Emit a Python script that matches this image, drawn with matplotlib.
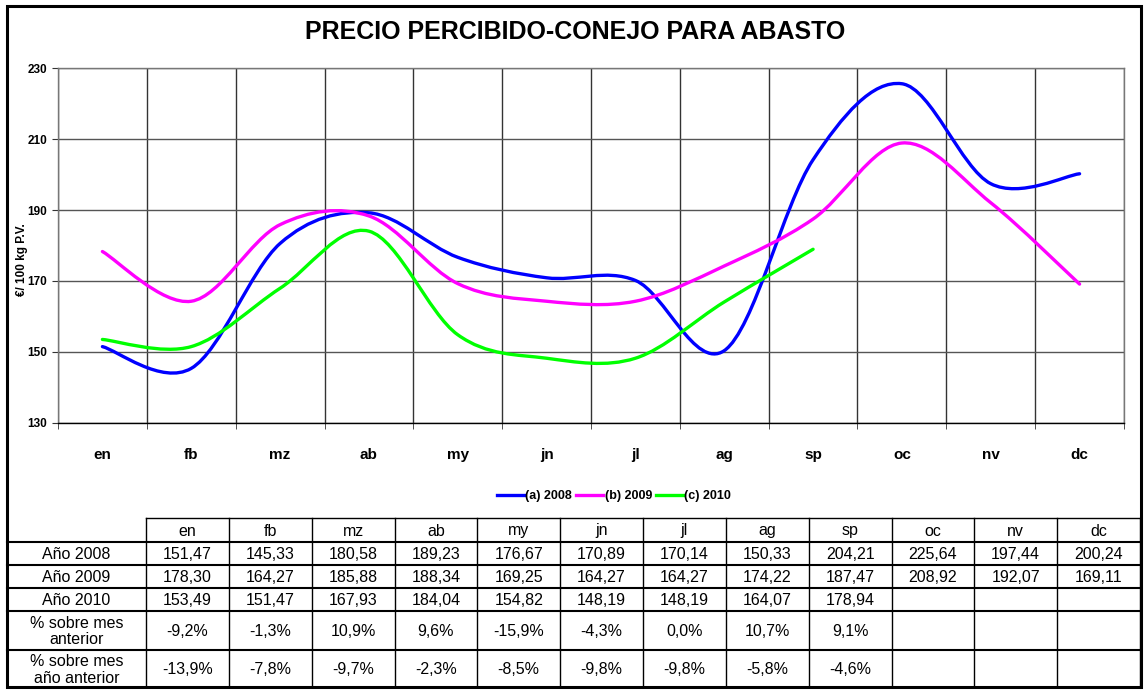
import numpy as np
import matplotlib
matplotlib.use("Agg")
import matplotlib.pyplot as plt
from matplotlib.path import Path
from matplotlib.patches import PathPatch, Rectangle
from matplotlib.lines import Line2D

plt.rcParams['font.family'] = ['Liberation Sans', 'DejaVu Sans']

# ---------------- data ----------------
months = ['en', 'fb', 'mz', 'ab', 'my', 'jn', 'jl', 'ag', 'sp', 'oc', 'nv', 'dc']
y2008 = [151.47, 145.33, 180.58, 189.23, 176.67, 170.89, 170.14, 150.33, 204.21, 225.64, 197.44, 200.24]
y2009 = [178.30, 164.27, 185.88, 188.34, 169.25, 164.27, 164.27, 174.22, 187.47, 208.92, 192.07, 169.11]
y2010 = [153.49, 151.47, 167.93, 184.04, 154.82, 148.19, 148.19, 164.07, 178.94]
pct_prev_month = [-9.2, -1.3, 10.9, 9.6, -15.9, -4.3, 0.0, 10.7, 9.1]
pct_prev_year = [-13.9, -7.8, -9.7, -2.3, -8.5, -9.8, -9.8, -5.8, -4.6]

series_labels = ['(a) 2008', '(b) 2009', '(c) 2010']
series_colors = ['#0000FF', '#FF00FF', '#00FF00']
row_labels = ['Año 2008', 'Año 2009', 'Año 2010', '% sobre mes\nanterior', '% sobre mes\naño anterior']

W, H = 1144, 691


def smooth_path(ys):
    # Excel-like smoothed line: cubic bezier through every point (Catmull-Rom tangents)
    xs = np.arange(len(ys), dtype=float)
    pts = np.column_stack([xs, np.asarray(ys, dtype=float)])
    verts = [pts[0]]
    codes = [Path.MOVETO]
    n = len(pts)
    for i in range(n - 1):
        p0 = pts[i - 1] if i > 0 else pts[i]
        p1 = pts[i]
        p2 = pts[i + 1]
        p3 = pts[i + 2] if i + 2 < n else pts[i + 1]
        verts += [p1 + (p2 - p0) / 6.0, p2 - (p3 - p1) / 6.0, p2]
        codes += [Path.CURVE4] * 3
    return Path(verts, codes)


fig = plt.figure(figsize=(W / 100, H / 100), dpi=100)

# ---------------- chart ----------------
left, right, top, bottom = 58, 1124, 68.3, 422.7
ax = fig.add_axes([left / W, 1 - bottom / H, (right - left) / W, (bottom - top) / H])
ax.set_xlim(-0.5, 11.5)
ax.set_ylim(130, 230)

for ys, c in zip([y2008, y2009, y2010], series_colors):
    ax.add_patch(PathPatch(smooth_path(ys), facecolor='none', edgecolor=c,
                           lw=2.4, capstyle='round', zorder=3))

ax.set_yticks(np.arange(130, 231, 20))
ax.set_xticks(np.arange(12))
ax.set_xticklabels(months, fontsize=11, fontweight='bold')
ax.set_xticks(np.arange(-0.5, 12, 1), minor=True)
ax.tick_params(axis='x', which='major', length=0, pad=18)
ax.tick_params(axis='x', which='minor', length=4, direction='out', color='#333333')
ax.tick_params(axis='y', length=4, direction='out', pad=4, labelsize=8.5, color='#333333')
for t in ax.get_yticklabels():
    t.set_fontweight('bold')

ax.grid(axis='y', which='major', color='#555555', lw=1)
ax.grid(axis='x', which='minor', color='#333333', lw=1)
ax.grid(axis='x', which='major', visible=False)
for side in ['left', 'right', 'top']:
    ax.spines[side].set_color('#777777')
ax.spines['bottom'].set_color('black')
for s in ax.spines.values():
    s.set_linewidth(1)

handles = [Line2D([], [], color=c, lw=2.4) for c in series_colors]
fig.legend(handles, series_labels, loc='center', bbox_to_anchor=(614 / W, 1 - 496 / H),
           ncol=3, frameon=False, prop={'size': 9, 'weight': 'bold'},
           handlelength=2.2, handletextpad=0.1, columnspacing=0.3)

# ---------------- overlay (title, frame, table) in pixel coords ----------------
ov = fig.add_axes([0, 0, 1, 1], zorder=5)
ov.set_xlim(0, W)
ov.set_ylim(H, 0)
ov.axis('off')
ov.patch.set_alpha(0)

ov.text(575, 32, 'PRECIO PERCIBIDO-CONEJO PARA ABASTO', ha='center', va='center',
        fontsize=18, fontweight='bold')
ov.text(22, 260, '€/ 100 kg P.V.', rotation=90, ha='center', va='center',
        fontsize=8.5, fontweight='bold')

# table geometry
col0_l, col0_r, tab_r = 7, 146, 1140
ncol = len(months)
cw = (tab_r - col0_r) / ncol
col_edges = [col0_r + k * cw for k in range(ncol + 1)]
row_edges = [518, 542, 565, 588, 611, 650, 687]

# header
ov.plot([col0_r, tab_r], [row_edges[0]] * 2, color='black', lw=1)
for k, m in enumerate(months):
    ov.text((col_edges[k] + col_edges[k + 1]) / 2, (row_edges[0] + row_edges[1]) / 2 + 1, m,
            ha='center', va='center', fontsize=11.5)
for y in row_edges[1:-1]:
    ov.plot([col0_l, tab_r], [y, y], color='black', lw=1.5)
for x in col_edges:
    ov.plot([x, x], [row_edges[0], row_edges[-1]], color='black', lw=1)


def fmt_val(v):
    return f'{v:.2f}'.replace('.', ',')


def fmt_pct(v):
    return f'{v:.1f}%'.replace('.', ',')


rows = [[fmt_val(v) for v in y2008],
        [fmt_val(v) for v in y2009],
        [fmt_val(v) for v in y2010],
        [fmt_pct(v) for v in pct_prev_month],
        [fmt_pct(v) for v in pct_prev_year]]

clip = Rectangle((0, 0), W, 687, transform=ov.transData)
for r, (lab, vals) in enumerate(zip(row_labels, rows)):
    y0, y1 = row_edges[r + 1], row_edges[r + 2]
    yc = (y0 + y1) / 2 + 1
    if r == len(rows) - 1:
        yc = y0 + 20
    t = ov.text((col0_l + col0_r) / 2, yc, lab, ha='center', va='center',
                fontsize=11.5, linespacing=1.15)
    t.set_clip_path(clip)
    for k, s in enumerate(vals):
        ov.text((col_edges[k] + col_edges[k + 1]) / 2, yc, s, ha='center', va='center',
                fontsize=11.5)

# outer frame
ov.add_patch(Rectangle((7, 5.5), 1134, 681.5, fill=False, edgecolor='black', lw=2.2))

fig.savefig('out.png', dpi=100)
